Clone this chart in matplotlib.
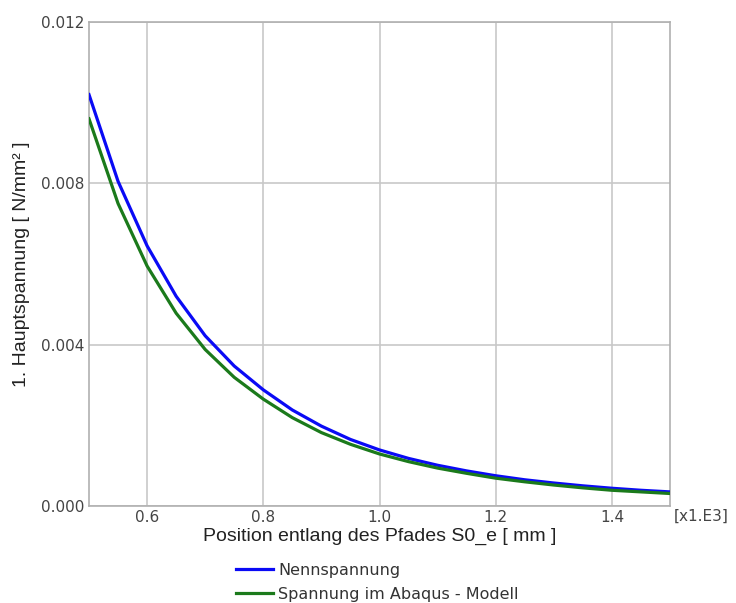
import matplotlib
matplotlib.use("Agg")
import matplotlib.pyplot as plt

# Path position (x1.E3 mm) and first principal stress (x1e-3 N/mm^2)
position = [0.50, 0.55, 0.60, 0.65, 0.70, 0.75, 0.80, 0.85, 0.90, 0.95, 1.00,
            1.05, 1.10, 1.15, 1.20, 1.25, 1.30, 1.35, 1.40, 1.45, 1.50]
nennspannung = [10.2, 8.05, 6.45, 5.20, 4.22, 3.47, 2.88, 2.38, 1.98, 1.65, 1.39,
                1.18, 1.01, 0.87, 0.75, 0.65, 0.57, 0.50, 0.44, 0.39, 0.35]
abaqus_modell = [9.6, 7.5, 5.95, 4.78, 3.88, 3.19, 2.65, 2.19, 1.82, 1.53, 1.29,
                 1.10, 0.94, 0.81, 0.69, 0.60, 0.52, 0.45, 0.39, 0.35, 0.31]
nennspannung = [v * 1e-3 for v in nennspannung]
abaqus_modell = [v * 1e-3 for v in abaqus_modell]

x_ticks = [0.6, 0.8, 1.0, 1.2, 1.4]
y_ticks = [0.000, 0.004, 0.008, 0.012]

fig = plt.figure(figsize=(7.36, 6.03), dpi=100)
ax = fig.add_axes([89 / 736, 1 - 506 / 603, 581 / 736, 484 / 603])

l1, = ax.plot(position, nennspannung, color="#0a0af5", lw=2.3,
              label="Nennspannung", zorder=3)
l2, = ax.plot(position, abaqus_modell, color="#1b7a1b", lw=2.3,
              label="Spannung im Abaqus - Modell", zorder=3)

ax.set_xlim(0.5, 1.5)
ax.set_ylim(0.0, 0.012)
ax.set_xticks(x_ticks)
ax.set_xticklabels([f"{v:.1f}" for v in x_ticks])
ax.set_yticks(y_ticks)
ax.set_yticklabels([f"{v:.3f}" for v in y_ticks])
ax.tick_params(length=0, labelsize=11, labelcolor="#444444", pad=3)
ax.grid(True, color="#c8c8c8", lw=1.2)
ax.set_axisbelow(True)
for sp in ax.spines.values():
    sp.set_color("#b0b0b0")
    sp.set_linewidth(1.2)

lbl_font = ["Liberation Sans Narrow", "Liberation Sans", "DejaVu Sans"]
ax.set_xlabel("Position entlang des Pfades S0_e [ mm ]", fontsize=14,
              family=lbl_font, color="#222222", labelpad=2)
ax.set_ylabel("1. Hauptspannung [ N/mm² ]", fontsize=14,
              family=lbl_font, color="#222222", labelpad=8)
fig.text(674 / 736, 1 - 516 / 603, "[x1.E3]", fontsize=11, color="#444444",
         va="center", ha="left")

fig.legend(handles=[l1, l2], loc="upper left",
           bbox_to_anchor=(223 / 736, 1 - 550 / 603), frameon=False,
           fontsize=11.5, handlelength=2.3, handletextpad=0.35,
           labelspacing=0.55, labelcolor="#333333", borderpad=0.3)

fig.savefig("out.png", dpi=100)
